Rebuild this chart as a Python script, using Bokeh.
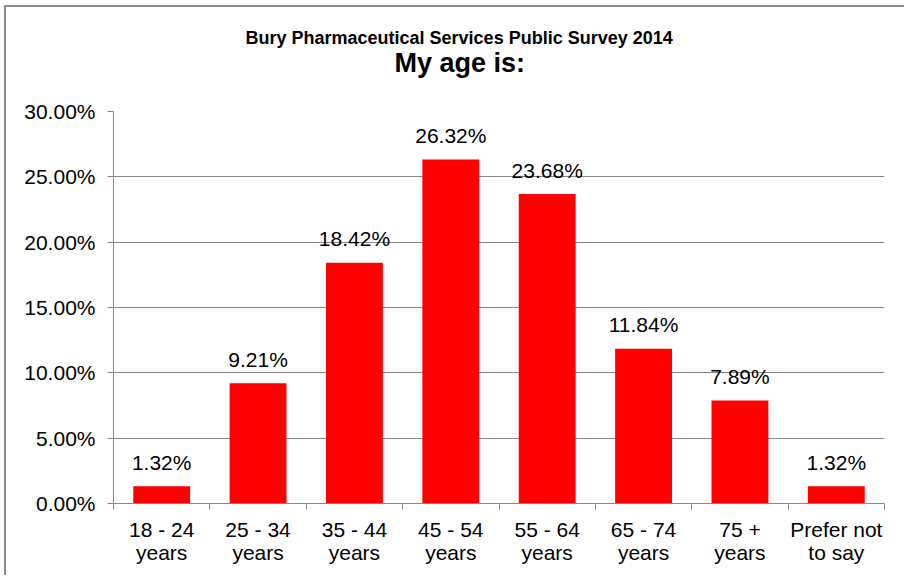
from bokeh.plotting import figure
from bokeh.models import Range1d, FixedTicker, NumeralTickFormatter, ColumnDataSource, Title
from bokeh.core.properties import value
from bokeh.embed import file_html
from bokeh.resources import INLINE

# ---- data ----
categories = ["18 - 24\nyears", "25 - 34\nyears", "35 - 44\nyears", "45 - 54\nyears",
              "55 - 64\nyears", "65 - 74\nyears", "75 +\nyears", "Prefer not\nto say"]
values = [0.0132, 0.0921, 0.1842, 0.2632, 0.2368, 0.1184, 0.0789, 0.0132]
y_ticks = [0.0, 0.05, 0.10, 0.15, 0.20, 0.25, 0.30]
title_main = "Bury Pharmaceutical Services Public Survey 2014"
title_sub = "My age is:"

n = len(categories)
centers = [i + 0.5 for i in range(n)]
bounds = [float(i) for i in range(n + 1)]
value_labels = [f"{v * 100:.2f}%" for v in values]

FONT = "Liberation Sans"
GRAY = "#878787"
FS = "21px"
W, H = 900, 570

p = figure(width=W, height=H, output_backend="svg", toolbar_location=None,
           x_range=Range1d(0, n), y_range=Range1d(0, 0.30),
           min_border_left=107, min_border_right=22, min_border_top=104, min_border_bottom=74)
p.styles = {"margin-left": "4px", "margin-top": "5px",
            "border-left": "2px solid #8c8c8c", "border-top": "2px solid #8c8c8c"}
p.outline_line_color = None
p.background_fill_color = "white"
p.border_fill_color = "white"

src = ColumnDataSource(dict(x=centers, top=values, label=value_labels))
p.vbar(x="x", top="top", width=0.59, bottom=0, source=src, fill_color="#FF0000", line_color=None)
p.text(x="x", y="top", text="label", source=src, text_align="center", text_baseline="alphabetic",
       y_offset=-24, text_font=value(FONT), text_font_size=FS, text_color="black")

# y axis
p.yaxis.ticker = FixedTicker(ticks=y_ticks)
p.yaxis.formatter = NumeralTickFormatter(format="0.00%")
p.yaxis.axis_line_color = GRAY
p.yaxis.major_tick_line_color = GRAY
p.yaxis.major_tick_in = 0
p.yaxis.major_tick_out = 6
p.yaxis.minor_tick_line_color = None
p.yaxis.major_label_standoff = 12
p.yaxis.major_label_text_font = FONT
p.yaxis.major_label_text_font_size = FS
p.yaxis.major_label_text_color = "black"

p.ygrid.ticker = FixedTicker(ticks=y_ticks)
p.ygrid.grid_line_color = GRAY
p.xgrid.grid_line_color = None

# x axis
p.xaxis.ticker = FixedTicker(ticks=centers, minor_ticks=bounds)
p.xaxis.major_label_overrides = {c: lab for c, lab in zip(centers, categories)}
p.xaxis.axis_line_color = GRAY
p.xaxis.major_tick_line_color = None
p.xaxis.minor_tick_line_color = GRAY
p.xaxis.minor_tick_in = 0
p.xaxis.minor_tick_out = 6
p.xaxis.major_label_standoff = 8
p.xaxis.major_label_text_font = FONT
p.xaxis.major_label_text_font_size = FS
p.xaxis.major_label_text_line_height = 1.0
p.xaxis.major_label_text_color = "black"
p.xaxis.major_label_text_align = "center"

# titles (spacer nearest the frame, then sub title, then main title)
p.add_layout(Title(text=" ", align="center", standoff=21, text_font_size="10px"), "above")
p.add_layout(Title(text=title_sub, align="left", standoff=0, offset=281,
                   text_font=FONT, text_font_size="27px", text_font_style="bold", text_color="black"),
             "above")
p.add_layout(Title(text=title_main, align="left", standoff=-4, offset=132,
                   text_font=FONT, text_font_size="18px", text_font_style="bold", text_color="black"),
             "above")

open("out.html", "w").write(file_html(p, INLINE))
